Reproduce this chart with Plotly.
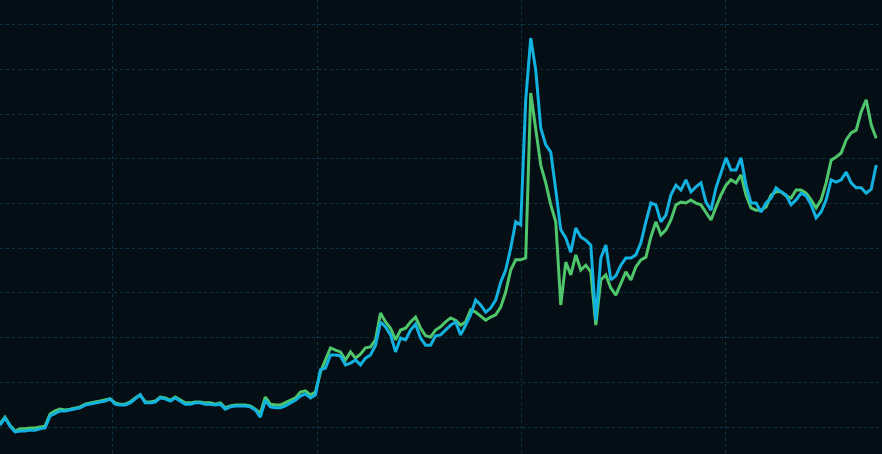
import pandas as pd
import plotly.graph_objects as go

# Sampling dates (one reading every 215 hours)
start_date = "2015-06-13"
n_points = 176

# Series values (arbitrary price units)
series_blue = [
    10.4, 12.0, 10.2, 8.9, 9.1, 9.1, 9.3, 9.3, 9.6, 9.8,
    12.5, 13.1, 13.6, 13.6, 13.8, 14.0, 14.3, 14.9, 15.1, 15.4,
    15.6, 15.8, 16.3, 15.1, 14.9, 14.9, 15.4, 16.3, 17.2, 15.4,
    15.4, 15.6, 16.5, 16.3, 15.8, 16.5, 15.8, 15.1, 15.1, 15.4,
    15.4, 15.1, 15.1, 14.9, 15.1, 14.0, 14.5, 14.7, 14.7, 14.7,
    14.5, 13.8, 12.2, 16.0, 14.5, 14.3, 14.3, 14.7, 15.4, 16.0,
    16.9, 17.4, 16.5, 17.2, 22.8, 23.2, 26.1, 26.1, 25.9, 23.9,
    24.3, 25.0, 23.9, 25.4, 26.1, 28.3, 33.5, 32.4, 30.6, 26.8,
    29.9, 29.5, 31.7, 33.0, 29.9, 28.3, 28.3, 30.4, 30.6, 31.7,
    32.8, 33.5, 30.6, 32.8, 35.1, 38.4, 37.3, 35.7, 36.6, 38.4,
    42.4, 45.1, 50.0, 55.9, 55.2, 83.2, 97.0, 89.9, 76.9, 73.1,
    71.5, 63.0, 54.1, 52.3, 49.1, 54.5, 52.5, 51.8, 50.7, 33.9,
    47.8, 50.7, 42.9, 43.8, 46.2, 47.8, 47.8, 48.5, 51.2, 55.9,
    60.1, 59.7, 55.9, 57.4, 61.9, 64.1, 63.0, 65.3, 62.6, 63.7,
    64.6, 60.3, 58.5, 63.5, 66.8, 70.2, 67.5, 67.5, 70.2, 64.1,
    60.1, 60.1, 58.1, 60.1, 61.2, 63.5, 62.6, 61.9, 59.7, 60.8,
    62.3, 61.7, 59.7, 56.8, 58.1, 60.8, 65.3, 64.8, 65.3, 67.0,
    64.6, 63.5, 63.5, 62.3, 63.2, 68.6,
]

series_green = [
    10.7, 12.2, 10.4, 9.1, 9.6, 9.6, 9.8, 9.8, 10.0, 10.2,
    12.9, 13.6, 14.0, 13.8, 14.0, 14.3, 14.5, 15.1, 15.4, 15.6,
    15.8, 16.0, 16.3, 15.4, 15.1, 15.1, 15.6, 16.5, 17.2, 15.6,
    15.6, 15.8, 16.7, 16.5, 16.0, 16.7, 16.0, 15.4, 15.4, 15.6,
    15.6, 15.4, 15.4, 15.1, 15.4, 14.3, 14.7, 14.9, 14.9, 14.9,
    14.7, 14.0, 13.1, 16.7, 15.1, 14.9, 14.9, 15.4, 16.0, 16.5,
    17.8, 18.1, 17.2, 17.8, 22.3, 25.0, 27.7, 27.2, 26.8, 25.0,
    26.8, 25.4, 26.3, 27.7, 27.9, 29.5, 35.5, 33.5, 32.1, 29.5,
    31.7, 32.1, 33.5, 34.6, 32.1, 30.4, 30.1, 31.7, 32.4, 33.5,
    34.4, 33.9, 32.8, 33.5, 36.2, 35.7, 34.8, 33.9, 34.6, 35.1,
    36.8, 40.2, 45.1, 47.4, 47.4, 47.8, 84.7, 76.4, 68.6, 64.6,
    59.7, 55.9, 37.3, 46.9, 44.0, 48.5, 45.1, 46.2, 44.7, 32.8,
    42.9, 44.0, 41.1, 39.5, 42.0, 44.7, 42.9, 45.8, 47.4, 48.0,
    52.5, 55.9, 53.0, 54.1, 56.3, 59.7, 60.3, 60.1, 60.8, 60.1,
    59.7, 58.1, 56.3, 59.2, 61.9, 64.1, 65.3, 64.6, 66.4, 61.9,
    59.0, 58.5, 58.5, 59.2, 61.9, 62.6, 62.6, 61.7, 61.2, 63.0,
    63.0, 62.3, 60.8, 59.0, 60.8, 64.6, 69.7, 70.4, 71.3, 74.2,
    75.8, 76.4, 80.5, 83.2, 77.6, 74.6,
]

dates = pd.date_range(start=start_date, periods=n_points, freq="215h")

fig = go.Figure()
fig.add_trace(go.Scatter(
    x=dates, y=series_green, mode="lines",
    line=dict(color="#4fc56c", width=3), name="Series B",
    hoverinfo="skip",
))
fig.add_trace(go.Scatter(
    x=dates, y=series_blue, mode="lines",
    line=dict(color="#12b2e0", width=3), name="Series A",
    hoverinfo="skip",
))

grid_color = "#0c3447"
fig.update_layout(
    width=882, height=454,
    margin=dict(l=0, r=0, t=0, b=0),
    paper_bgcolor="#040f15",
    plot_bgcolor="#040f15",
    showlegend=False,
    xaxis=dict(
        type="date",
        range=["2015-06-13", "2019-10-08 02:00"],
        tick0="2016-01-01", dtick="M12",
        showgrid=True, gridcolor=grid_color, griddash="dot", gridwidth=1,
        showticklabels=False, zeroline=False, showline=False, ticks="",
    ),
    yaxis=dict(
        range=[3.96, 105.52],
        tick0=0, dtick=10,
        showgrid=True, gridcolor=grid_color, griddash="dot", gridwidth=1,
        showticklabels=False, zeroline=False, showline=False, ticks="",
    ),
)

fig.write_html(
    "out.html",
    config={"displayModeBar": False},
    post_script="document.body.style.margin='0';document.body.style.background='#040f15';",
)
